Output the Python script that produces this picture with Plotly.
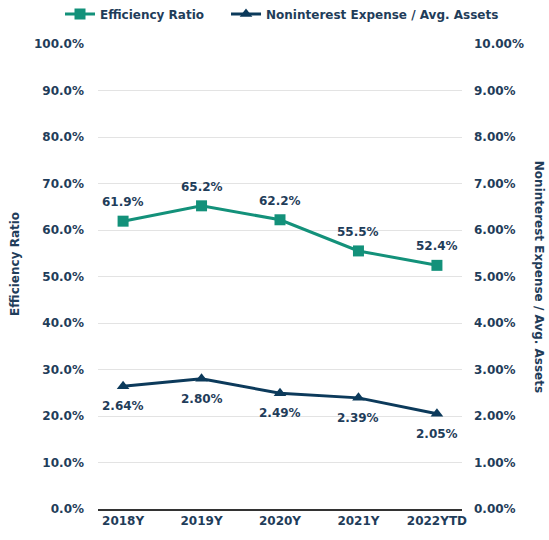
import plotly.graph_objects as go
from plotly.subplots import make_subplots

categories = ["2018Y", "2019Y", "2020Y", "2021Y", "2022YTD"]
efficiency_ratio = [61.9, 65.2, 62.2, 55.5, 52.4]
nonint_expense = [2.64, 2.80, 2.49, 2.39, 2.05]
left_ticks = [0, 10, 20, 30, 40, 50, 60, 70, 80, 90, 100]
right_ticks = [0, 1, 2, 3, 4, 5, 6, 7, 8, 9, 10]

TEAL = "#13917a"
NAVY = "#0c3a5b"
TXT = "#1f3d5a"
FONT = "DejaVu Sans"
FS = 12

def f(size=FS):
    return dict(family=FONT, size=size, color=TXT, weight="bold")

fig = make_subplots(specs=[[{"secondary_y": True}]])
fig.add_trace(go.Scatter(
    x=categories, y=efficiency_ratio, name="Efficiency Ratio",
    mode="lines+markers", legend="legend",
    line=dict(color=TEAL, width=3),
    marker=dict(symbol="square", size=11, color=TEAL),
), secondary_y=False)
fig.add_trace(go.Scatter(
    x=categories, y=nonint_expense, name="Noninterest Expense / Avg. Assets",
    mode="lines+markers", legend="legend2",
    line=dict(color=NAVY, width=3),
    marker=dict(symbol="triangle-up", size=11, color=NAVY),
), secondary_y=True)

annotations = []
for c, v in zip(categories, efficiency_ratio):
    annotations.append(dict(x=c, y=v, xref="x", yref="y", text=f"{v:.1f}%",
                            showarrow=False, yshift=19, font=f()))
for c, v in zip(categories, nonint_expense):
    annotations.append(dict(x=c, y=v, xref="x", yref="y2", text=f"{v:.2f}%",
                            showarrow=False, yshift=-20, font=f()))
# axis titles
annotations.append(dict(x=-0.228, y=0.527, xref="paper", yref="paper", text="Efficiency Ratio",
                        textangle=-90, showarrow=False, xanchor="center", yanchor="middle", font=f()))
annotations.append(dict(x=1.212, y=0.499, xref="paper", yref="paper",
                        text="Noninterest Expense / Avg. Assets",
                        textangle=90, showarrow=False, xanchor="center", yanchor="middle", font=f()))

leg_common = dict(orientation="h", xref="container", yref="container",
                  xanchor="left", y=0.974, yanchor="middle",
                  font=f(12), itemwidth=30, bgcolor="rgba(0,0,0,0)")
fig.update_layout(
    width=549, height=540,
    margin=dict(l=98, r=87, t=44, b=31, autoexpand=False),
    plot_bgcolor="white", paper_bgcolor="white",
    font=f(),
    showlegend=True,
    legend=dict(x=0.1093, **leg_common),
    legend2=dict(x=0.4117, **leg_common),
    annotations=annotations,
)
fig.update_xaxes(
    domain=[0, 1],
    showgrid=False, showline=True, linecolor="#333333", linewidth=1.5,
    tickfont=f(), ticks="", automargin=False,
)
fig.update_yaxes(
    range=[0, 100], tickvals=left_ticks,
    ticktext=[f"{v:.1f}%" for v in left_ticks],
    showgrid=True, gridcolor="#e3e3e3", gridwidth=1, zeroline=False,
    tickfont=f(), ticklabelstandoff=13, automargin=False,
    secondary_y=False,
)
fig.update_yaxes(
    range=[0, 10], tickvals=right_ticks,
    ticktext=[f"{v:.2f}%" for v in right_ticks],
    showgrid=False, zeroline=False,
    tickfont=f(), ticklabelstandoff=11, automargin=False,
    secondary_y=True,
)
fig.write_html("out.html", config={"displayModeBar": False},
               post_script="document.body.style.margin='0';")
